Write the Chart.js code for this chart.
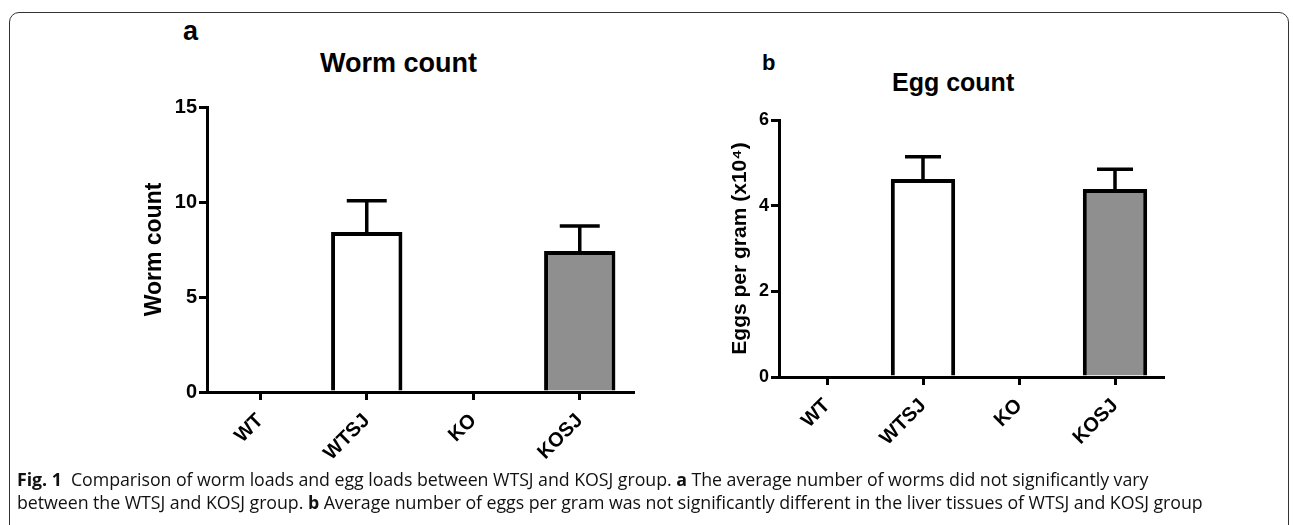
<!DOCTYPE html>
<html>
<head>
<meta charset="utf-8">
<script src="https://cdn.jsdelivr.net/npm/chart.js@4"></script>
<style>
  body { margin: 0; width: 1293px; height: 525px; background: #fff; overflow: hidden; position: relative; font-family: "Liberation Sans", Arial, sans-serif; }
  .frame { position: absolute; left: 9px; top: 12px; width: 1278px; height: 600px; border: 1.5px solid #333; border-radius: 10px; }
  .panel { position: absolute; }
  .lbl { position: absolute; font-weight: bold; color: #000; white-space: nowrap; line-height: 1; }
  .caption { position: absolute; left: 17px; top: 468px; font-family: "Open Sans", sans-serif; font-size: 17.8px; line-height: 23px; color: #111; white-space: nowrap; letter-spacing: -0.05px; }
</style>
</head>
<body>
<div class="frame"></div>

<div class="lbl" style="left:183px; top:18px; font-size:27px;">a</div>
<div class="lbl" style="left:320px; top:50px; font-size:27px;">Worm count</div>
<div class="lbl" style="left:762px; top:52px; font-size:22px;">b</div>
<div class="lbl" style="left:892px; top:70px; font-size:25px;">Egg count</div>

<div class="panel" style="left:120px; top:0px; width:540px; height:470px;">
  <canvas id="wormChart" width="540" height="470"></canvas>
</div>
<div class="panel" style="left:690px; top:0px; width:500px; height:470px;">
  <canvas id="eggChart" width="500" height="470"></canvas>
</div>

<div class="caption">
  <b>Fig. 1</b>&nbsp; Comparison of worm loads and egg loads between WTSJ and KOSJ group. <b>a</b> The average number of worms did not significantly vary<br>
  between the WTSJ and KOSJ group. <b>b</b> Average number of eggs per gram was not significantly different in the liver tissues of WTSJ and KOSJ group
</div>

<script>
const groups = ["WT", "WTSJ", "KO", "KOSJ"];

const wormMean = [null, 8.42, null, 7.42];
const wormSem = [null, 1.65, null, 1.32];
const wormTicks = [0, 5, 10, 15];

const eggMean = [null, 4.62, null, 4.39];
const eggSem = [null, 0.52, null, 0.46];
const eggTicks = [0, 2, 4, 6];

const barFill = ["#ffffff", "#ffffff", "#ffffff", "#8f8f8f"];

Chart.defaults.font.family = '"Liberation Sans", Arial, sans-serif';
Chart.defaults.color = "#000";

// error bars (upper half only) drawn from the bar elements
const errorBars = {
    id: "errorBars",
    afterDatasetsDraw(chart) {
        const ctx = chart.ctx;
        const ds = chart.data.datasets[0];
        const meta = chart.getDatasetMeta(0);
        const y = chart.scales.y;
        ctx.save();
        ctx.strokeStyle = "#000";
        ctx.lineWidth = 3.5;
        meta.data.forEach((bar, i) => {
            const v = ds.data[i];
            if (v == null) return;
            const top = y.getPixelForValue(v + ds.sem[i]);
            const half = bar.width * 0.28;
            ctx.beginPath();
            ctx.moveTo(bar.x, bar.y);
            ctx.lineTo(bar.x, top);
            ctx.moveTo(bar.x - half, top);
            ctx.lineTo(bar.x + half, top);
            ctx.stroke();
        });
        ctx.restore();
    }
};

function wykres(canvas_id, means, sems, ticks, y_title, cfg) {
    let ctx = document.getElementById(canvas_id).getContext("2d");
    return new Chart(ctx, {
        type: "bar",
        data: {
            labels: groups,
            datasets: [
                {
                    data: means,
                    sem: sems,
                    backgroundColor: barFill,
                    borderColor: "#000",
                    borderWidth: 4,
                    borderSkipped: "bottom",
                    categoryPercentage: 1,
                    barPercentage: 0.67
                }
            ]
        },
        options: {
            responsive: false,
            animation: false,
            devicePixelRatio: 1,
            layout: { padding: cfg.padding },
            plugins: { legend: { display: false }, tooltip: { enabled: false } },
            scales: {
                x: {
                    offset: true,
                    grid: { offset: false, drawOnChartArea: false, drawTicks: true, tickLength: 8, color: "#000", lineWidth: 3 },
                    border: { display: true, color: "#000", width: 3, z: 1 },
                    ticks: { minRotation: 45, maxRotation: 45, padding: 9, font: { size: 20, weight: "bold" } },
                    afterFit: (s) => { s.height = cfg.xHeight; }
                },
                y: {
                    min: ticks[0],
                    max: ticks[ticks.length - 1],
                    afterBuildTicks: (s) => { s.ticks = ticks.map(v => ({ value: v })); },
                    grid: { drawOnChartArea: false, drawTicks: true, tickLength: 8, color: "#000", lineWidth: 3 },
                    border: { display: true, color: "#000", width: 3 },
                    ticks: { padding: 2, font: { size: cfg.tickSize, weight: "bold" } },
                    title: { display: true, text: y_title, padding: { top: cfg.titlePad, bottom: 0 }, font: { size: cfg.titleSize, weight: "bold" } },
                    afterFit: (s) => { s.width = cfg.yWidth; }
                }
            }
        },
        plugins: [errorBars]
    });
}

wykres("wormChart", wormMean, wormSem, wormTicks, "Worm count",
    { padding: { top: 107, right: 27, bottom: 0, left: 0 }, xHeight: 78, yWidth: 87, tickSize: 20, titleSize: 23, titlePad: 21 });

wykres("eggChart", eggMean, eggSem, eggTicks, "Eggs per gram (x10\u2074)",
    { padding: { top: 120, right: 27, bottom: 0, left: 0 }, xHeight: 93, yWidth: 89, tickSize: 18, titleSize: 21, titlePad: 38 });
</script>
</body>
</html>
